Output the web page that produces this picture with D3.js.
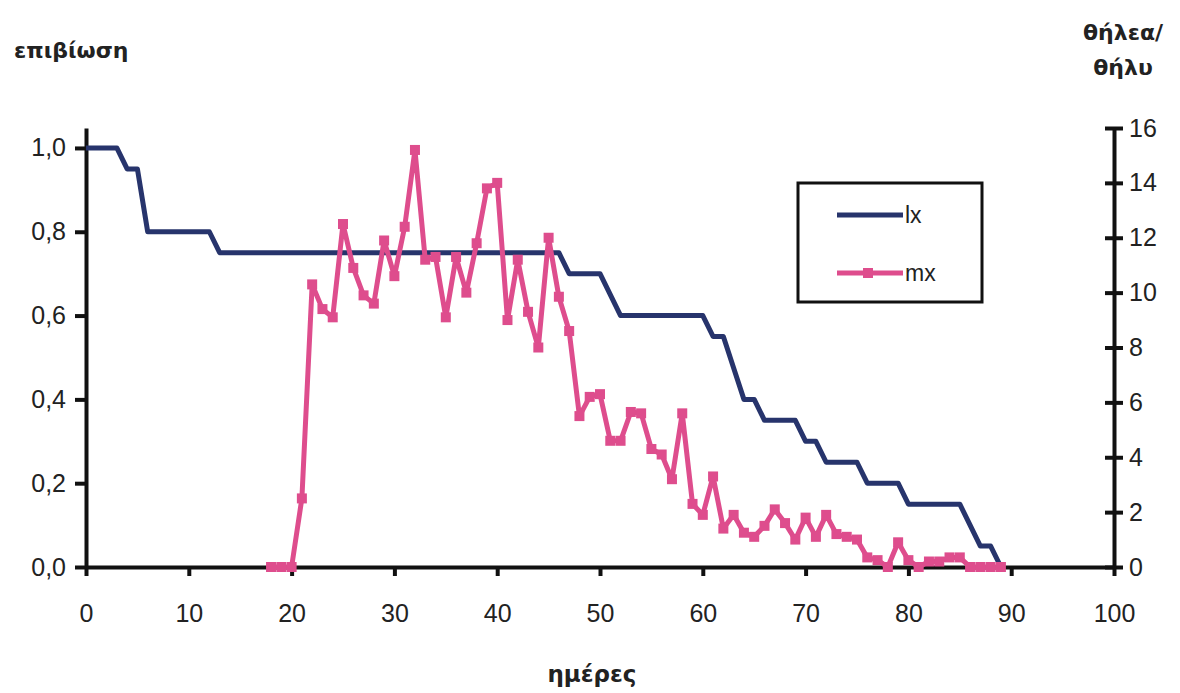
<!DOCTYPE html>
<html>
<head>
<meta charset="utf-8">
<script src="https://cdn.jsdelivr.net/npm/d3@7"></script>
<style>
  body { margin: 0; background: #fff; }
  svg { display: block; }
  text { font-family: "Liberation Sans", Arial, sans-serif; fill: #222; }
</style>
</head>
<body>
<div id="chart"></div>
<script>
// survival (lx) - breakpoints of the step curve
const lxDays   = [0, 3, 4, 5, 6, 12, 13, 46, 47, 50, 51, 52, 60, 61, 62, 63, 64, 65, 66, 69, 70, 71, 72, 75, 76, 79, 80, 85, 86, 87, 88, 89];
const lxValues = [1.0, 1.0, 0.95, 0.95, 0.8, 0.8, 0.75, 0.75, 0.70, 0.70, 0.65, 0.60, 0.60, 0.55, 0.55, 0.475, 0.40, 0.40, 0.35, 0.35, 0.30, 0.30, 0.25, 0.25, 0.20, 0.20, 0.15, 0.15, 0.10, 0.05, 0.05, 0.0];

// fecundity (mx) - one value per day, day 18 .. 89
const mxDays = d3.range(18, 90);
const mxValues = [0, 0, 0, 2.5, 10.3, 9.4, 9.1, 12.5, 10.9, 9.9,
                  9.6, 11.9, 10.6, 12.4, 15.2, 11.2, 11.3, 9.1, 11.3, 10.0,
                  11.8, 13.8, 14.0, 9.0, 11.2, 9.3, 8.0, 12.0, 9.85, 8.6,
                  5.5, 6.2, 6.3, 4.6, 4.6, 5.65, 5.6, 4.3, 4.1, 3.2,
                  5.6, 2.3, 1.9, 3.3, 1.4, 1.9, 1.25, 1.1, 1.5, 2.1,
                  1.6, 1.0, 1.8, 1.1, 1.9, 1.2, 1.1, 1.0, 0.35, 0.25,
                  0, 0.9, 0.25, 0, 0.2, 0.2, 0.35, 0.35, 0, 0,
                  0, 0];

const xTicks = d3.range(0, 101, 10);
const leftTicks = [0, 0.2, 0.4, 0.6, 0.8, 1.0];
const rightTicks = d3.range(0, 17, 2);

const seriesNames = ['lx', 'mx'];
const lxColor = '#27346c';
const mxColor = '#de4d8d';

const width = 1180, height = 693;

const svg = d3.select('#chart')
    .append('svg')
    .attr('width', width)
    .attr('height', height);

const x = d3.scaleLinear().domain([0, 100]).range([86, 1114]);
const yL = d3.scaleLinear().domain([0, 1.0476]).range([567, 128]);
const yR = d3.scaleLinear().domain([0, 16]).range([567, 128]);

const comma = v => d3.format('.1f')(v).replace('.', ',');

// left axis
const gL = svg.append('g')
    .attr('transform', `translate(${x(0)},0)`)
    .call(d3.axisLeft(yL).tickValues(leftTicks).tickFormat(comma).tickSizeInner(11).tickSizeOuter(0).tickPadding(9));

// right axis (ticks cross the line)
const gR = svg.append('g')
    .attr('transform', `translate(${x(100)},0)`)
    .call(d3.axisRight(yR).tickValues(rightTicks).tickSizeInner(9).tickSizeOuter(0).tickPadding(6));
gR.selectAll('.tick line').attr('x1', -9);

// bottom axis
const gB = svg.append('g')
    .attr('transform', `translate(0,${yL(0)})`)
    .call(d3.axisBottom(x).tickValues(xTicks).tickSizeInner(9).tickSizeOuter(0).tickPadding(28));

[gL, gR, gB].forEach(g => {
    g.select('.domain').attr('stroke', '#111').attr('stroke-width', 4);
    g.selectAll('.tick line').attr('stroke', '#111').attr('stroke-width', 4);
    g.selectAll('.tick text')
        .attr('fill', '#222')
        .style('font-size', '25px')
        .style('font-family', '"Liberation Sans", Arial, sans-serif');
});

// lx line
const lxLine = d3.line()
    .x((d, i) => x(lxDays[i]))
    .y(d => yL(d));

svg.append('path')
    .datum(lxValues)
    .attr('fill', 'none')
    .attr('stroke', lxColor)
    .attr('stroke-width', 5)
    .attr('stroke-linejoin', 'round')
    .attr('d', lxLine);

// mx line with square markers
const mxLine = d3.line()
    .x((d, i) => x(mxDays[i]))
    .y(d => yR(d));

svg.append('path')
    .datum(mxValues)
    .attr('fill', 'none')
    .attr('stroke', mxColor)
    .attr('stroke-width', 5)
    .attr('stroke-linejoin', 'round')
    .attr('d', mxLine);

svg.append('g')
    .selectAll('rect')
    .data(mxValues)
    .enter()
    .append('rect')
    .attr('x', (d, i) => x(mxDays[i]) - 5)
    .attr('y', d => yR(d) - 5)
    .attr('width', 10)
    .attr('height', 10)
    .attr('fill', mxColor);

// legend
const legend = svg.append('g').attr('transform', 'translate(798,183)');
legend.append('rect')
    .attr('width', 184).attr('height', 119)
    .attr('fill', '#fff').attr('stroke', '#111').attr('stroke-width', 3);
seriesNames.forEach((name, i) => {
    const ly = 32 + i * 58;
    const c = i === 0 ? lxColor : mxColor;
    legend.append('line')
        .attr('x1', 39).attr('x2', 105).attr('y1', ly).attr('y2', ly)
        .attr('stroke', c).attr('stroke-width', 5);
    if (i === 1) {
        legend.append('rect')
            .attr('x', 70 - 5).attr('y', ly - 5)
            .attr('width', 10).attr('height', 10).attr('fill', c);
    }
    legend.append('text')
        .attr('x', 107).attr('y', ly + 8)
        .style('font-size', '23px')
        .text(name);
});

// axis titles
svg.append('text')
    .attr('x', 14).attr('y', 58)
    .style('font-size', '22px').style('font-weight', 'bold')
    .style('font-family', '"DejaVu Sans", sans-serif')
    .text('επιβίωση');

svg.append('text')
    .attr('x', 1123).attr('y', 40)
    .attr('text-anchor', 'middle')
    .style('font-size', '22px').style('font-weight', 'bold')
    .style('font-family', '"DejaVu Sans", sans-serif')
    .text('θήλεα/');

svg.append('text')
    .attr('x', 1123).attr('y', 75)
    .attr('text-anchor', 'middle')
    .style('font-size', '22px').style('font-weight', 'bold')
    .style('font-family', '"DejaVu Sans", sans-serif')
    .text('θήλυ');

svg.append('text')
    .attr('x', 592).attr('y', 682)
    .attr('text-anchor', 'middle')
    .style('font-size', '23px').style('font-weight', 'bold')
    .style('font-family', '"DejaVu Sans", sans-serif')
    .text('ημέρες');
</script>
</body>
</html>
